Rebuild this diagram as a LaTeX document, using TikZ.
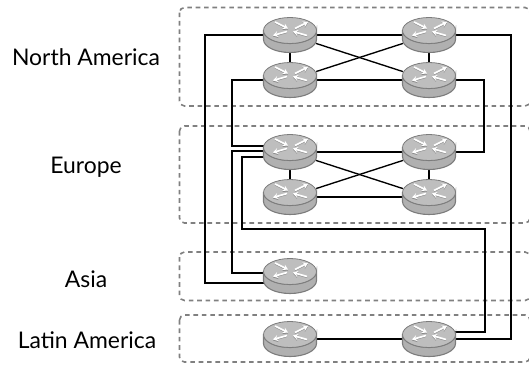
\documentclass[tikz,border=0pt]{standalone}
\usepackage{fontspec}
\setmainfont{Lato}
\usetikzlibrary{arrows.meta,calc}
\definecolor{rbody}{HTML}{B0B0B0}
\definecolor{rtop}{HTML}{BEBEBE}
\definecolor{redge}{HTML}{7C7C7C}
\definecolor{rshade}{HTML}{8C8C8C}
\definecolor{zone}{HTML}{808080}
\tikzset{
  x=1bp,y=-1bp,
  region/.style={draw=zone,line width=1.6bp,dash pattern=on 4.6bp off 3.8bp,rounded corners=5bp},
  routerbox/.style={minimum width=52bp,minimum height=34bp,inner sep=0pt,outer sep=0pt},
  link/.style={draw=black,line width=1.35bp},
  lab/.style={font=\fontsize{23}{26}\selectfont,inner sep=0pt},
  warrow/.style={white,line width=1.7bp,-{Stealth[length=5bp,width=6bp]}},
  sarrow/.style={rshade,line width=1bp,-{Stealth[length=5bp,width=6bp]}}
}
\newcommand{\routerart}[1]{%
  \begin{scope}[shift={(#1)},yshift=0.5bp]
    \path[fill=rbody,draw=redge,line width=1.1bp]
      (-26.5,-4) -- (-26.5,5) arc[x radius=26.5bp,y radius=13bp,start angle=180,end angle=360] -- (26.5,-4)
      arc[x radius=26.5bp,y radius=13bp,start angle=0,end angle=-180] -- cycle;
    \path[fill=rtop,draw=redge,line width=.8bp] (0,-4) ellipse[x radius=26.5bp,y radius=13bp];
    \draw[sarrow] (-15,-11.5) -- (-2,-5);
    \draw[sarrow] (5,-5) -- (18,-11.5);
    \draw[sarrow] (-3,-2) -- (-17,2);
    \draw[sarrow] (17,2) -- (3,-2);
    \draw[warrow] (-15,-12.5) -- (-2,-6);
    \draw[warrow] (5,-6) -- (18,-12.5);
    \draw[warrow] (-3,-3) -- (-17,1);
    \draw[warrow] (17,1) -- (3,-3);
  \end{scope}%
}
\begin{document}
\begin{tikzpicture}
\useasboundingbox (0,0) rectangle (529,367);
\begin{scope}
\clip (0,0) rectangle (529,367);
\draw[region] (179.5,7.5) rectangle (530,106);
\draw[region] (179.5,126) rectangle (530,223);
\draw[region] (179.5,252) rectangle (530,300.5);
\draw[region] (179.5,315) rectangle (530,362);
\end{scope}
\foreach \n/\x/\y in {na1/290/35,na2/429/35,na3/290/80,na4/429/80,
  eu1/290/152,eu2/429/152,eu3/290/197,eu4/429/197,
  as1/290/276,la1/290/339,la2/429/339}
  \node[routerbox] (\n) at (\x,\y) {};
\coordinate (v1) at (205,0);
\coordinate (v2) at (511,0);
\coordinate (v3) at (232,0);
\coordinate (v4) at (484,0);
\coordinate (v5) at (242,229);
\coordinate (v6) at (485,229);
\coordinate (p1) at ($(as1.west)+(0,7)$);
\coordinate (p2) at ($(as1.west)+(0,-3)$);
\coordinate (p3) at ($(eu1.west)+(0,-6)$);
\coordinate (p4) at ($(eu1.west)+(0,-1)$);
\coordinate (p5) at ($(eu1.west)+(0,5)$);
\coordinate (p6) at ($(la2.east)+(0,-7)$);
\draw[link] (na1.west) -- (na1.west -| v1) -- (p1 -| v1) -- (p1);
\draw[link] (na2.east) -- (na2.east -| v2) -- (la2.east -| v2) -- (la2.east);
\draw[link] (na3.west) -- (na3.west -| v3) -- (p3 -| v3) -- (p3);
\draw[link] (na4.east) -- (na4.east -| v4) -- (eu2.east -| v4) -- (eu2.east);
\draw[link] (p4) -- (p4 -| v3) -- (p2 -| v3) -- (p2);
\draw[link] (p5) -- (p5 -| v5) -- (v5) -- (v6) -- (p6 -| v6) -- (p6);
\draw[link] (na1) -- (na2);
\draw[link] (na3) -- (na4);
\draw[link] (na1) -- (na3);
\draw[link] (na2) -- (na4);
\draw[link] (na1) -- (na4);
\draw[link] (na2) -- (na3);
\draw[link] (eu1) -- (eu2);
\draw[link] (eu3) -- (eu4);
\draw[link] (eu1) -- (eu3);
\draw[link] (eu2) -- (eu4);
\draw[link] (eu1) -- (eu4);
\draw[link] (eu2) -- (eu3);
\draw[link] (la1) -- (la2);
\foreach \n in {na1,na2,na3,na4,eu1,eu2,eu3,eu4,as1,la1,la2}
  \routerart{\n};
\node[lab] (t1) at (86,57) {North America};
\node[lab] (t2) at (86,167) {Europe};
\node[lab] (t3) at (86,279) {Asia};
\node[lab] (t4) at (87,340) {Latin America};
\end{tikzpicture}
\end{document}
